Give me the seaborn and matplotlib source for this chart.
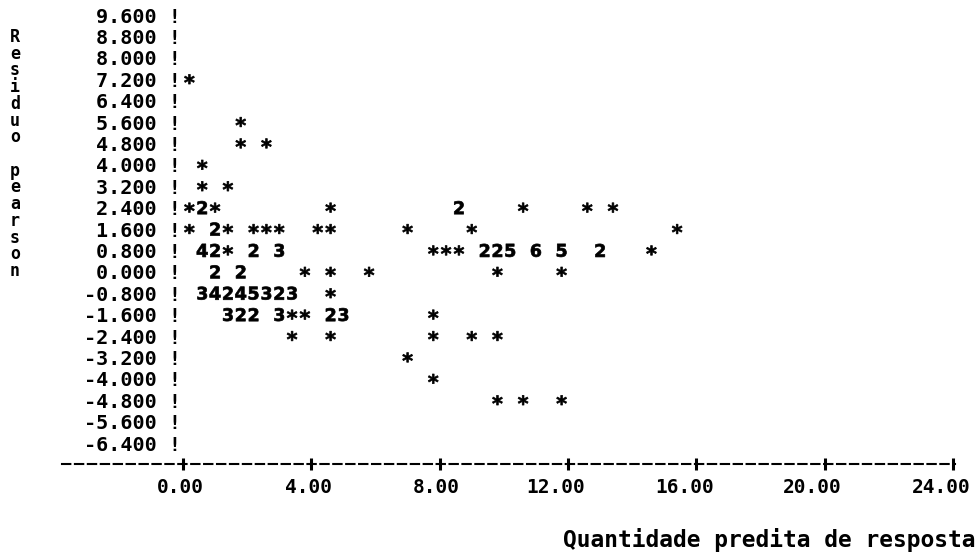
import numpy as np
import pandas as pd
import matplotlib
matplotlib.use("Agg")
import matplotlib.pyplot as plt
import matplotlib.transforms as mtransforms
import seaborn as sns

# VALUES
# '*' = one observation, digit = number of observations on the same cell

predito = [
    0.2,                                              # 7.2
    1.8,                                              # 5.6
    1.8, 2.6,                                         # 4.8
    0.6,                                              # 4.0
    0.6, 1.4,                                         # 3.2
    0.2, 0.6, 1.0, 4.6, 8.6, 10.6, 12.6, 13.4,        # 2.4
    0.2, 1.0, 1.4, 2.2, 2.6, 3.0, 4.2, 4.6, 7.0, 9.0, 15.4,   # 1.6
    0.6, 1.0, 1.4, 2.2, 3.0, 7.8, 8.2, 8.6, 9.4, 9.8, 10.2, 11.0, 11.8, 13.0, 14.6,  # 0.8
    1.0, 1.8, 3.8, 4.6, 5.8, 9.8, 11.8,               # 0.0
    0.6, 1.0, 1.4, 1.8, 2.2, 2.6, 3.0, 3.4, 4.6,      # -0.8
    1.4, 1.8, 2.2, 3.0, 3.4, 3.8, 4.6, 5.0, 7.8,      # -1.6
    3.4, 4.6, 7.8, 9.0, 9.8,                          # -2.4
    7.0,                                              # -3.2
    7.8,                                              # -4.0
    9.8, 10.6, 11.8,                                  # -4.8
]

residuo = (
    [7.2] + [5.6] + [4.8] * 2 + [4.0] + [3.2] * 2 + [2.4] * 8 + [1.6] * 11
    + [0.8] * 15 + [0.0] * 7 + [-0.8] * 9 + [-1.6] * 9 + [-2.4] * 5
    + [-3.2] + [-4.0] + [-4.8] * 3
)

simbolo = [
    "*",
    "*",
    "*", "*",
    "*",
    "*", "*",
    "*", "2", "*", "*", "2", "*", "*", "*",
    "*", "2", "*", "*", "*", "*", "*", "*", "*", "*", "*",
    "4", "2", "*", "2", "3", "*", "*", "*", "2", "2", "5", "6", "5", "2", "*",
    "2", "2", "*", "*", "*", "*", "*",
    "3", "4", "2", "4", "5", "3", "2", "3", "*",
    "3", "2", "2", "3", "*", "*", "2", "3", "*",
    "*", "*", "*", "*", "*",
    "*",
    "*",
    "*", "*", "*",
]

y_ticks = [9.6, 8.8, 8.0, 7.2, 6.4, 5.6, 4.8, 4.0, 3.2, 2.4, 1.6, 0.8,
           0.0, -0.8, -1.6, -2.4, -3.2, -4.0, -4.8, -5.6, -6.4]
y_tick_labels = ["9.600", "8.800", "8.000", "7.200", "6.400", "5.600", "4.800",
                 "4.000", "3.200", "2.400", "1.600", "0.800", "0.000", "-0.800",
                 "-1.600", "-2.400", "-3.200", "-4.000", "-4.800", "-5.600", "-6.400"]
x_ticks = [0, 4, 8, 12, 16, 20, 24]
x_tick_labels = ["0.00", "4.00", "8.00", "12.00", "16.00", "20.00", "24.00"]

df = pd.DataFrame({"predito": predito, "residuo": residuo, "simbolo": simbolo})

sns.set_style("white")
plt.rcParams["font.family"] = ["DejaVu Sans Mono", "DejaVu Sans"]
plt.rcParams["font.weight"] = "bold"
plt.rcParams["text.color"] = "black"
plt.rcParams["xtick.color"] = "black"
plt.rcParams["ytick.color"] = "black"

fig = plt.figure(figsize=(9.78, 5.54), dpi=100)
ax = fig.add_axes([0.0634, 0.1617, 0.9131, 0.8305])

marcas = {s: r"$\mathbf{%s}$" % s for s in ["*", "2", "3", "4", "5", "6"]}
tamanhos = {"*": 52, "2": 88, "3": 88, "4": 88, "5": 88, "6": 88}

sns.scatterplot(
    data=df,
    x="predito",
    y="residuo",
    style="simbolo",
    markers=marcas,
    size="simbolo",
    sizes=tamanhos,
    color="black",
    edgecolor="black",
    linewidth=0.5,
    legend=False,
    ax=ax
)

ax.set_xlim(-3.77, 24.06)
ax.set_ylim(-7.2, 10.0)

ax.set_xticks(x_ticks)
ax.set_xticklabels(x_tick_labels)
ax.set_yticks(y_ticks)
ax.set_yticklabels([lab + " !" for lab in y_tick_labels])

ax.tick_params(axis="x", bottom=True, direction="inout", length=9, width=2.2,
               pad=5, labelsize=14, color="black", labelcolor="black")
ax.tick_params(axis="y", left=False, length=0, pad=-85.5, labelsize=14.5,
               labelcolor="black")

# printer labels sit a bit left of the tick marks
for lab in ax.get_xticklabels():
    dx = -12 if len(lab.get_text()) > 4 else -3
    lab.set_transform(lab.get_transform()
                      + mtransforms.ScaledTranslation(dx / 100, 0, fig.dpi_scale_trans))

for side in ["top", "right", "left"]:
    ax.spines[side].set_visible(False)
ax.spines["bottom"].set_linewidth(1.5)
ax.spines["bottom"].set_linestyle((0, (4.0, 2.2)))
ax.spines["bottom"].set_color("black")

ax.set_xlabel("")
ax.set_ylabel("")

fig.text(0.0153, 0.722, "\n".join("Residuo pearson"),
         ha="center", va="center", multialignment="center",
         fontsize=12, fontweight="bold", linespacing=0.91, color="black")
fig.text(0.997, 0.025, "Quantidade predita de resposta",
         ha="right", va="center", fontsize=16.5, fontweight="bold", color="black")

fig.savefig("out.png", dpi=100)
